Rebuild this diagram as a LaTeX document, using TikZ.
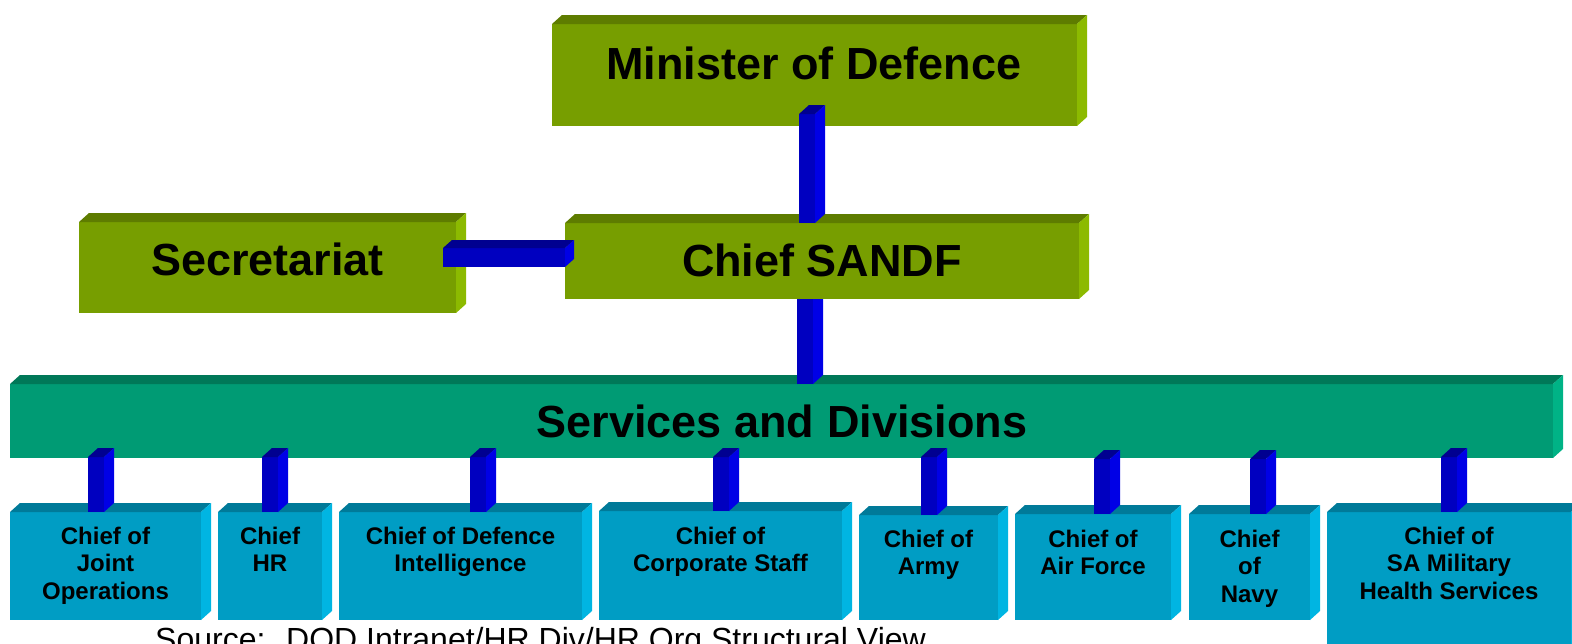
\documentclass[tikz,border=0pt]{standalone}
\usepackage{fontspec}
\setmainfont{Liberation Sans}
\usetikzlibrary{calc}

% face colours: F = front, T = top, S = right side
\definecolor{olvF}{HTML}{779E00}
\definecolor{olvT}{HTML}{5E7C00}
\definecolor{olvS}{HTML}{8CBA00}
\definecolor{grnF}{HTML}{009B74}
\definecolor{grnT}{HTML}{007858}
\definecolor{grnS}{HTML}{00B386}
\definecolor{cyaF}{HTML}{009DC4}
\definecolor{cyaT}{HTML}{007A99}
\definecolor{cyaS}{HTML}{00B5E2}
\definecolor{barF}{HTML}{0000C0}
\definecolor{barT}{HTML}{000090}
\definecolor{barS}{HTML}{0000E6}

\tikzset{
  cubenode/.style={rectangle, inner sep=0pt, outer sep=0pt},
  bigtext/.style={anchor=base, inner sep=0pt, font=\fontsize{45}{50}\selectfont\bfseries},
  smalltext/.style={anchor=base, inner sep=0pt, font=\fontsize{24}{27.5}\selectfont\bfseries},
  srctext/.style={anchor=base west, inner sep=0pt, font=\fontsize{32}{36}\selectfont},
}

% front face of a block: name, x1, y1, x2, y2
\newcommand\cubenode[5]{%
  \node[cubenode, minimum width={(#4-#2)*1pt}, minimum height={(#5-#3)*1pt}]
    (#1) at ({(#2+#4)/2},{(#3+#5)/2}) {};}

% paint a block (front, top, right side) in a palette
\newcommand\paintcube[2]{%
  \fill[#2F] (#1.south west) rectangle (#1.north east);
  \fill[#2T] (#1.north west) -- ++(10pt,9pt) -- ([shift={(10pt,9pt)}]#1.north east)
    -- (#1.north east) -- cycle;
  \fill[#2S] (#1.north east) -- ++(10pt,9pt) -- ([shift={(10pt,9pt)}]#1.south east)
    -- (#1.south east) -- cycle;}

% vertical bar: upper node, lower node, x of front left edge, overlap into upper node
\newcommand\vconn[4]{%
  \coordinate (vcX) at (#3,0);
  \coordinate (vcT) at ($(#1.south -| vcX)+(0pt,#4pt)$);
  \coordinate (vcB) at (#2.north -| vcX);
  \fill[barF] (vcT) rectangle ([xshift=16pt]vcB);
  \fill[barT] (vcT) -- ++(10pt,9pt) -- ++(16pt,0pt) -- ([xshift=16pt]vcT) -- cycle;
  \fill[barS] ([xshift=16pt]vcT) -- ++(10pt,9pt) -- ([shift={(26pt,9pt)}]vcB)
    -- ([xshift=16pt]vcB) -- cycle;}

% horizontal bar: left node, right node, y of front top edge, overlap into left node
\newcommand\hconn[4]{%
  \coordinate (hcY) at (0,#3);
  \coordinate (hcL) at ($(#1.east |- hcY)+(-#4pt,0pt)$);
  \coordinate (hcR) at (#2.west |- hcY);
  \fill[barF] (hcL) rectangle ([yshift=-19pt]hcR);
  \fill[barT] (hcL) -- ++(9pt,8pt) -- ([shift={(9pt,8pt)}]hcR) -- (hcR) -- cycle;
  \fill[barS] (hcR) -- ++(9pt,8pt) -- ([shift={(9pt,-11pt)}]hcR)
    -- ([yshift=-19pt]hcR) -- cycle;}

\newcommand\ml[1]{\begin{tabular}[t]{@{}c@{}}#1\end{tabular}}

\begin{document}
\begin{tikzpicture}[x=1pt, y=-1pt]
\useasboundingbox (0,0) rectangle (1572,643);
\clip (0,0) rectangle (1572,643);

% block outlines
\cubenode{min}{552}{24}{1077}{126}
\cubenode{secr}{79}{222}{456}{313}
\cubenode{sandf}{565}{223}{1079}{299}
\cubenode{serv}{10}{384}{1553}{458}
\cubenode{jo}{10}{512}{201}{620}
\cubenode{hr}{218}{512}{322}{620}
\cubenode{di}{339}{512}{582}{620}
\cubenode{cs}{599}{511}{842}{620}
\cubenode{army}{859}{515}{998}{620}
\cubenode{af}{1015}{514}{1171}{620}
\cubenode{navy}{1189}{514}{1310}{620}
\cubenode{health}{1327}{512}{1571}{680}

% upper levels
\paintcube{min}{olv}
\paintcube{secr}{olv}
\paintcube{serv}{grn}
\vconn{sandf}{serv}{797}{20}
\paintcube{sandf}{olv}
\vconn{min}{sandf}{799}{12}
\hconn{secr}{sandf}{248}{13}

% lower level
\foreach \b in {jo,hr,di,cs,army,af,navy,health} {\paintcube{\b}{cya}}
\vconn{serv}{jo}{88}{1}
\vconn{serv}{hr}{262}{1}
\vconn{serv}{di}{470}{1}
\vconn{serv}{cs}{713}{1}
\vconn{serv}{army}{921}{1}
\vconn{serv}{af}{1094}{-1}
\vconn{serv}{navy}{1250}{-1}
\vconn{serv}{health}{1441}{1}

% labels
\node[bigtext] (min-t) at (814,79) {Minister of Defence};
\node[bigtext] (sandf-t) at (822,276) {Chief SANDF};
\node[bigtext] (secr-t) at (267.5,275) {Secretariat};
\node[bigtext] (serv-t) at (782,437) {Services and Divisions};

\node[smalltext] (jo-t) at (105.5,544) {\ml{Chief of\\Joint\\Operations}};
\node[smalltext] (hr-t) at (270,544) {\ml{Chief\\HR}};
\node[smalltext] (di-t) at (460.5,544) {\ml{Chief of Defence\\Intelligence}};
\node[smalltext] (cs-t) at (720.5,544) {\ml{Chief of\\Corporate Staff}};
\node[smalltext] (army-t) at (928.5,547) {\ml{Chief of\\Army}};
\node[smalltext] (af-t) at (1093,547) {\ml{Chief of\\Air Force}};
\node[smalltext] (navy-t) at (1249.5,547) {\ml{Chief\\of\\Navy}};
\node[smalltext] (health-t) at (1449,544) {\ml{Chief of\\SA Military\\Health Services}};

\node[srctext] (src) at (155,650) {Source:~ DOD Intranet/HR Div/HR Org Structural View};
\end{tikzpicture}
\end{document}
